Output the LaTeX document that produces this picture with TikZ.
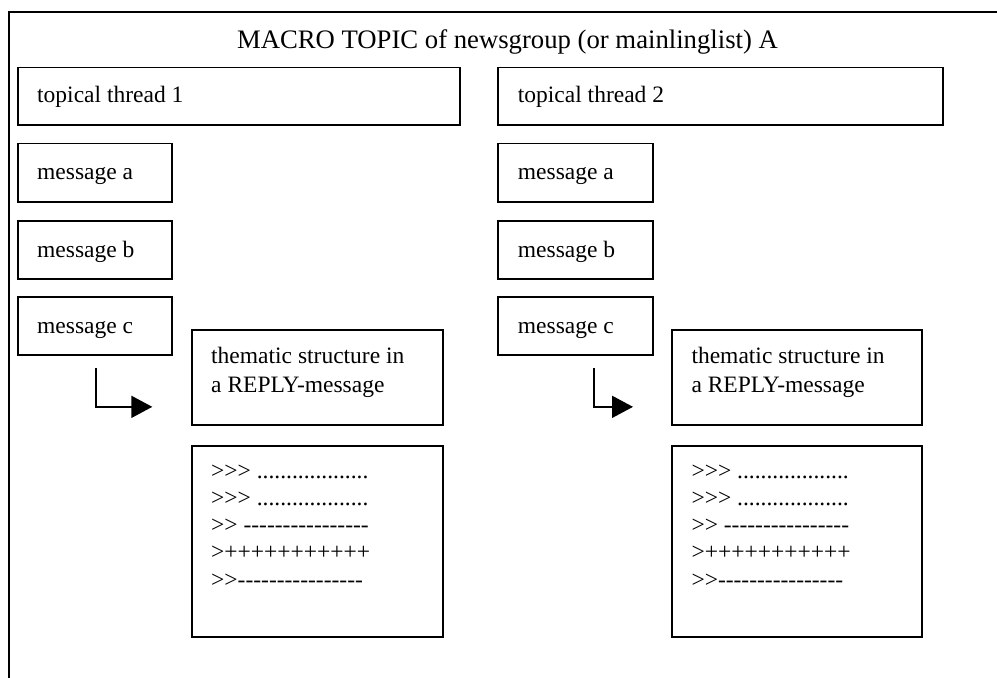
\documentclass[tikz,border=0pt]{standalone}
\usepackage{fontspec}
\setmainfont{Liberation Serif}[Ligatures=TeXOff]
\usetikzlibrary{arrows.meta,calc}
\begin{document}
\begin{tikzpicture}[x=1bp,y=-1bp,
  frame/.style={line width=1.8bp},
  box/.style={draw, line width=1.8bp, rectangle, inner sep=0pt, anchor=north west},
  txt/.style={anchor=base west, inner sep=0pt, font=\fontsize{23.5bp}{27bp}\selectfont},
  conn/.style={line width=1.8bp, -{Triangle[length=21bp,width=22bp]}}]
\useasboundingbox (0,0) rectangle (997,678);

% outer frame of the newsgroup
\draw[frame] (9,690) -- (9,12.3) -- (1010,12.3);
\node[anchor=base, inner sep=0pt, font=\fontsize{26.7bp}{30bp}\selectfont] (title) at (507.5,49)
  {MACRO TOPIC of newsgroup (or mainlinglist) A};

% thread boxes
\node[box, minimum width=442.6bp, minimum height=57.6bp] (t1) at (16.7,66.7) {};
\node[box, minimum width=445bp, minimum height=57.6bp] (t2) at (497,66.7) {};
\node[txt] (t1l) at ($(t1.north west)+(20.3,36.3)$) {topical thread 1};
\node[txt] (t2l) at ($(t2.north west)+(20.7,36.3)$) {topical thread 2};

% message boxes
\foreach \m/\y in {a/142.7, b/220.3, c/296.3}{
  \node[box, minimum width=154.6bp, minimum height=58bp] (m1\m) at (16.7,\y) {};
  \node[box, minimum width=154.7bp, minimum height=58bp] (m2\m) at (497,\y) {};
  \node[txt] (m1\m l) at ($(m1\m.north west)+(20.3,36.8)$) {message \m};
  \node[txt] (m2\m l) at ($(m2\m.north west)+(20.7,36.8)$) {message \m};
}

% thematic structure boxes
\node[box, minimum width=251bp, minimum height=95.3bp] (th1) at (190.7,329) {};
\node[box, minimum width=250.3bp, minimum height=95.3bp] (th2) at (671,329) {};
\foreach \k in {1,2}{
  \node[txt] (th\k a) at ($(th\k.north west)+(20.3,34)$) {thematic structure in};
  \node[txt] (th\k b) at ($(th\k.north west)+(20.3,63)$) {a REPLY-message};
}

% quoted reply boxes
\node[box, minimum width=251bp, minimum height=191bp] (q1) at (190.7,445) {};
\node[box, minimum width=250.3bp, minimum height=191bp] (q2) at (671,445) {};
\foreach \k in {1,2}{
  \foreach \i/\s in {0/{>>> ...................},
                     1/{>>> ...................},
                     2/{>> ----------------},
                     3/{>+++++++++++},
                     4/{>>----------------}}{
    \node[txt] (q\k l\i) at ($(q\k.north west)+(20.3,33+27.3*\i)$) {\s};
  }
}

% reply connectors
\coordinate (s1) at ($(m1c.south)+(1,12)$);
\coordinate (e1) at ($(th1.west)+(-38.4,29.3)$);
\coordinate (s2) at ($(m2c.south)+(18.6,12)$);
\coordinate (e2) at ($(th2.west)+(-38,29.3)$);
\draw[conn] (s1) |- (e1);
\draw[conn] (s2) |- (e2);
\end{tikzpicture}
\end{document}
